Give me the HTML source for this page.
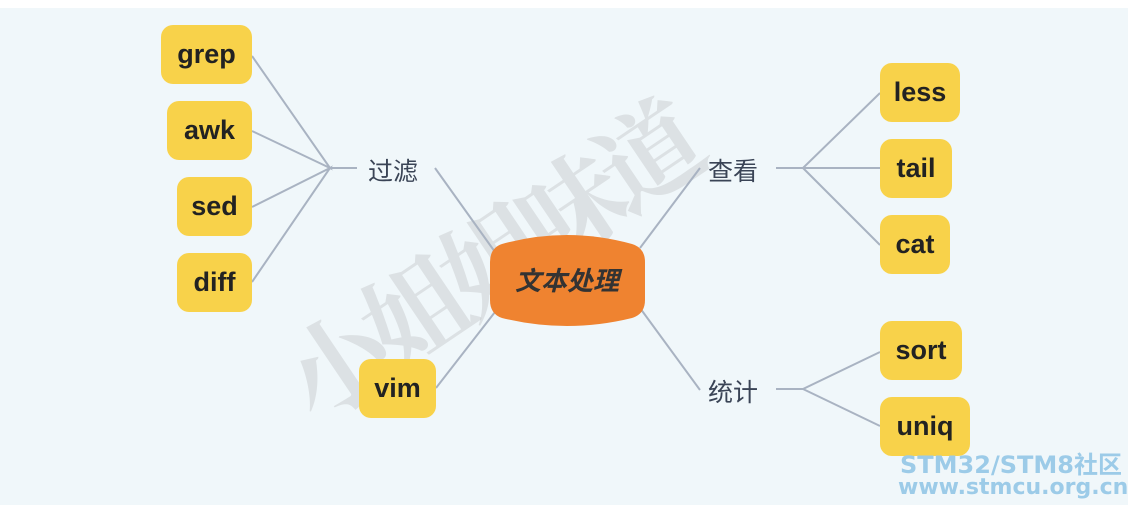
<!DOCTYPE html>
<html><head><meta charset="utf-8"><style>
body{margin:0;width:1131px;height:510px;background:#fff;overflow:hidden;position:relative;font-family:"Liberation Sans","Noto Sans CJK SC",sans-serif}
.bg{position:absolute;left:0;top:8px;width:1128px;height:497px;background:#f0f7fa}
.b{position:absolute;background:#f8d24a;border-radius:12px;font-weight:bold;font-size:27px;color:#222;display:flex;align-items:center;justify-content:center;height:59px}
.l{position:absolute;font-size:25px;color:#3a4456;font-family:"Noto Sans CJK SC",sans-serif}
.wm{position:absolute;font-size:104px;color:rgba(150,150,150,0.22);font-family:"Noto Serif CJK SC",serif;font-weight:bold;transform:rotate(-34deg);transform-origin:left top;white-space:nowrap;letter-spacing:-10px;line-height:1}
.st{position:absolute;left:900px;color:#9ccbe8;font-weight:bold;font-size:24px;line-height:1;font-family:"DejaVu Sans","Noto Sans CJK SC",sans-serif}
</style></head><body>
<div class="bg"></div>
<div class="wm" style="left:262px;top:345px">小姐姐味道</div>
<svg style="position:absolute;left:0;top:0" width="1131" height="510">
<g stroke="#a9b3c2" stroke-width="2" fill="none">
<path d="M252 56L330 168L252 131M252 207L330 168L252 282M330 168H357"/>
<path d="M435 168L495 252M436 388L495 312"/>
<path d="M640 248L700 168M640 308L700 390"/>
<path d="M776 168H803L880 93M803 168H880M803 168L880 245"/>
<path d="M776 389H803L880 352M803 389L880 426"/>
</g>
<path d="M502 244Q567 226 632 244Q645 248 645 262V300Q645 314 632 318Q567 334 502 318Q490 314 490 300V262Q490 248 502 244Z" fill="#ef8330"/>
<text x="567" y="290" text-anchor="middle" font-size="26" font-style="italic" font-weight="bold" font-family="Noto Sans CJK SC,sans-serif" fill="#333">文本处理</text>
</svg>
<div class="b" style="left:161px;top:25px;width:91px">grep</div>
<div class="b" style="left:167px;top:101px;width:85px">awk</div>
<div class="b" style="left:177px;top:177px;width:75px">sed</div>
<div class="b" style="left:177px;top:253px;width:75px">diff</div>
<div class="b" style="left:359px;top:359px;width:77px">vim</div>
<div class="b" style="left:880px;top:63px;width:80px">less</div>
<div class="b" style="left:880px;top:139px;width:72px">tail</div>
<div class="b" style="left:880px;top:215px;width:70px">cat</div>
<div class="b" style="left:880px;top:321px;width:82px">sort</div>
<div class="b" style="left:880px;top:397px;width:90px">uniq</div>
<div class="l" style="left:368px;top:152px">过滤</div>
<div class="l" style="left:708px;top:152px">查看</div>
<div class="l" style="left:708px;top:373px">统计</div>
<div class="st" style="top:453px">STM32/STM8社区</div>
<div class="st" style="top:477px;left:898px;font-size:22px">www.stmcu.org.cn</div>
</body></html>
